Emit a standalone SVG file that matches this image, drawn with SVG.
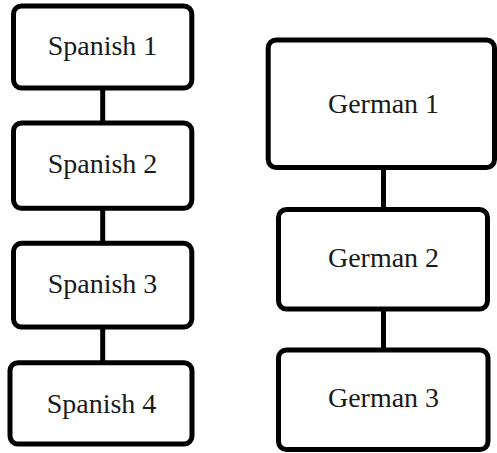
<svg xmlns="http://www.w3.org/2000/svg" width="497" height="453" viewBox="0 0 497 453">
<style>
.box{fill:#fff;stroke:#000;stroke-width:5}
.lbl{font-family:"Liberation Serif","DejaVu Serif",serif;font-size:28px;fill:#1a1a1a;text-anchor:middle}
.conn{stroke:#000;stroke-width:5;fill:none}
</style>
<rect width="497" height="453" fill="#fff"/>
<g id="connectors">
<line class="conn" x1="102.7" y1="88" x2="102.7" y2="123"/>
<line class="conn" x1="102.7" y1="208" x2="102.7" y2="243"/>
<line class="conn" x1="102.7" y1="327" x2="102.7" y2="363"/>
<line class="conn" x1="383.5" y1="167.5" x2="383.5" y2="209.5"/>
<line class="conn" x1="383.5" y1="309" x2="383.5" y2="350"/>
</g>
<g id="spanish1"><rect class="box" x="13.5" y="6" width="178.3" height="82" rx="8"/><text class="lbl" x="102.5" y="54.5">Spanish 1</text></g>
<g id="spanish2"><rect class="box" x="13.5" y="123" width="178.3" height="85.3" rx="8"/><text class="lbl" x="102.5" y="173.3">Spanish 2</text></g>
<g id="spanish3"><rect class="box" x="13.5" y="243.3" width="178.3" height="83.7" rx="8"/><text class="lbl" x="102.5" y="293">Spanish 3</text></g>
<g id="spanish4"><rect class="box" x="10" y="362.7" width="182" height="81.3" rx="8"/><text class="lbl" x="101.5" y="412.7">Spanish 4</text></g>
<g id="german1"><rect class="box" x="268.2" y="40" width="226.3" height="127.5" rx="8"/><text class="lbl" x="383.5" y="112.7">German 1</text></g>
<g id="german2"><rect class="box" x="278.5" y="209.5" width="209" height="99.5" rx="8"/><text class="lbl" x="383.5" y="266.7">German 2</text></g>
<g id="german3"><rect class="box" x="278.5" y="350" width="209.5" height="99.5" rx="8"/><text class="lbl" x="383.5" y="406.7">German 3</text></g>
</svg>
